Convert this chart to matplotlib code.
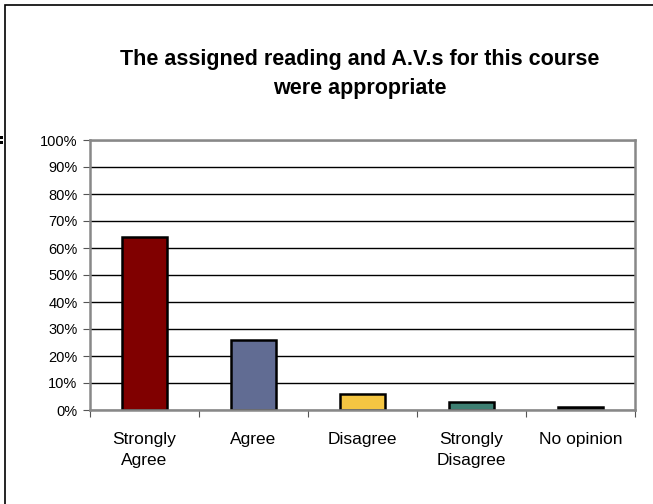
import numpy as np
import matplotlib
matplotlib.use('Agg')
import matplotlib.pyplot as plt
from matplotlib.patches import Rectangle

plt.rcParams['font.family'] = ['Liberation Sans', 'DejaVu Sans']

# survey answers
categories = ['Strongly\nAgree', 'Agree', 'Disagree', 'Strongly\nDisagree', 'No opinion']
values = [64, 26, 6, 3, 1]
colors = ['#800000', '#616C93', '#F4C542', '#3D7F72', '#111111']
yticks = list(range(0, 101, 10))

fig = plt.figure(figsize=(6.53, 5.04), dpi=100)
ax = fig.add_axes([90/653, 1 - 410/504, 545/653, 270/504])

x = np.arange(len(categories))
ax.bar(x, values, width=0.41, color=colors, edgecolor='black', linewidth=1.8, zorder=3)

ax.set_xlim(-0.5, len(categories) - 0.5)
ax.set_ylim(0, 100)
ax.set_yticks(yticks)
ax.set_yticklabels(['%d%%' % v for v in yticks], fontsize=10.5)
ax.yaxis.grid(True, color='black', linewidth=1.0, zorder=0)

# category labels between the boundary ticks
ax.set_xticks(np.arange(-0.5, len(categories), 1.0))
ax.set_xticklabels([])
ax.set_xticks(x, minor=True)
ax.set_xticklabels(categories, minor=True, fontsize=12.5, linespacing=1.5)
ax.tick_params(axis='x', which='minor', length=0, pad=16)
ax.tick_params(axis='x', which='major', length=5, color='#555555', direction='out')
ax.tick_params(axis='y', length=5, color='#555555', direction='out', pad=4)

for s in ['left', 'bottom', 'right', 'top']:
    ax.spines[s].set_color('#888888')
    ax.spines[s].set_linewidth(1.8)
    ax.spines[s].set_zorder(4)

fig.text(360/653, 1 - 74/504, 'The assigned reading and A.V.s for this course\nwere appropriate',
         ha='center', va='center', fontsize=15.5, fontweight='bold', linespacing=1.5)

# outer chart frame
fig.patches.append(Rectangle((4.5/653, -0.05), 1.1, 1 - 4.5/504 + 0.05, transform=fig.transFigure,
                             fill=False, edgecolor='black', linewidth=1.2))
# small marks at the left edge
for yy in (137, 142):
    fig.patches.append(Rectangle((0, 1 - (yy + 1.5)/504), 3/653, 3/504, transform=fig.transFigure,
                                 facecolor='black', edgecolor='none'))

fig.savefig('out.png', dpi=100)
